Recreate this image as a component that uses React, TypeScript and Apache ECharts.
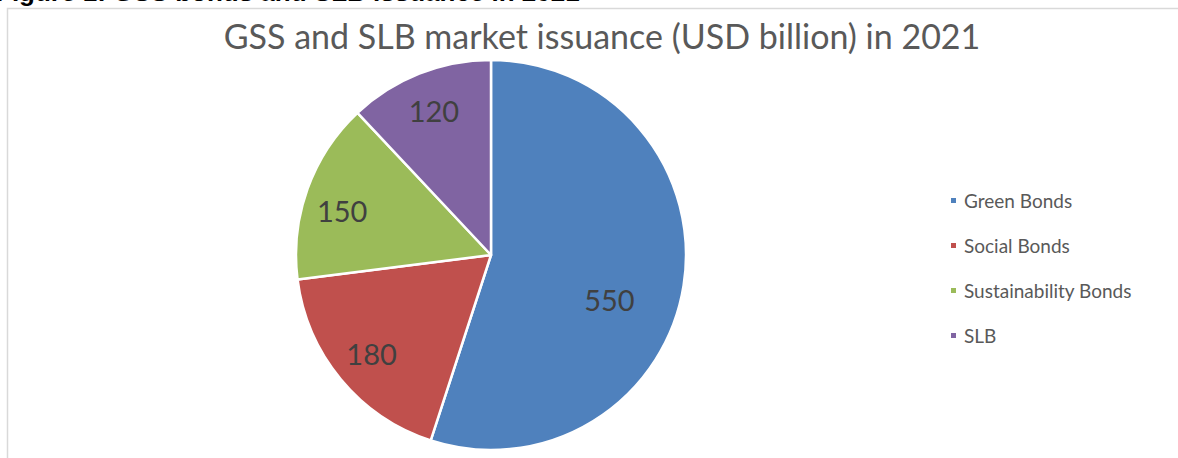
import React, { useEffect, useRef } from "react";
import * as echarts from "echarts";

const categories = ["Green Bonds", "Social Bonds", "Sustainability Bonds", "SLB"];
const values = [550, 180, 150, 120];
const colors = ["#4F81BD", "#C0504D", "#9BBB59", "#8064A2"];
const titleText = "GSS and SLB market issuance (USD billion) in 2021";
const captionText = "Figure 1: GSS bonds and SLB issuance in 2021";

export default function App() {
  const ref = useRef<HTMLDivElement>(null);
  useEffect(() => {
    if (!ref.current) return;
    const chart = echarts.init(ref.current, undefined, { renderer: "svg" });
    const data = categories.map((name, i) => ({
      name,
      value: values[i],
      itemStyle: { color: colors[i] },
    }));
    const center = [491, 255];
    const labelStyle = {
      color: "#404040",
      fontSize: 29,
      fontFamily: "Lato",
    };
    const labelOffsets: Record<number, number[]> = { 0: [-10, 24], 2: [-3, 8] };
    chart.setOption({
      animation: false,
      title: {
        text: titleText,
        left: 597,
        top: 13,
        textAlign: "center",
        textStyle: {
          color: "#595959",
          fontSize: 34,
          fontWeight: "normal",
          fontFamily: "Lato",
        },
      },
      legend: {
        data: categories,
        orient: "vertical",
        left: 944,
        top: 186,
        icon: "rect",
        itemWidth: 7,
        itemHeight: 7,
        itemGap: 26,
        selectedMode: false,
        textStyle: { color: "#595959", fontSize: 19, fontFamily: "Lato", padding: [0, 0, 0, 2] },
      },
      graphic: [
        {
          type: "rect",
          shape: { x: 7.5, y: 8.5, width: 1200, height: 500 },
          style: { fill: "none", stroke: "#d9d9d9", lineWidth: 1.5 },
          silent: true,
        },
        {
          type: "text",
          x: -4,
          y: 5,
          style: {
            text: captionText,
            fill: "#000",
            font: "bold 26px 'Liberation Sans', Arial, sans-serif",
            textVerticalAlign: "bottom",
          },
          silent: true,
        },
      ],
      series: [
        {
          type: "pie",
          center,
          radius: [0, 195],
          startAngle: 90,
          data,
          label: { show: false },
          labelLine: { show: false },
          itemStyle: { borderColor: "#fff", borderWidth: 2.5 },
          emphasis: { disabled: true },
          silent: true,
        },
        {
          type: "pie",
          center,
          radius: [0, 304],
          startAngle: 90,
          silent: true,
          emphasis: { disabled: true },
          data: data.map((d, i) => ({
            name: d.name,
            value: d.value,
            itemStyle: { color: "transparent" },
            label: { show: i !== 0, offset: labelOffsets[i] || [0, 0] },
          })),
          itemStyle: { borderWidth: 0 },
          label: { position: "inside", formatter: "{c}", ...labelStyle },
          labelLine: { show: false },
        },
        {
          type: "pie",
          center,
          radius: [0, 254],
          startAngle: 90,
          silent: true,
          emphasis: { disabled: true },
          data: data.map((d, i) => ({
            name: d.name,
            value: d.value,
            itemStyle: { color: "transparent" },
            label: { show: i === 0, offset: labelOffsets[i] || [0, 0] },
          })),
          itemStyle: { borderWidth: 0 },
          label: { position: "inside", formatter: "{c}", ...labelStyle },
          labelLine: { show: false },
        },
      ],
    });
    return () => chart.dispose();
  }, []);
  return (
    <div
      ref={ref}
      style={{ position: "absolute", left: 0, top: 0, width: 1178, height: 458, background: "#fff" }}
    />
  );
}
